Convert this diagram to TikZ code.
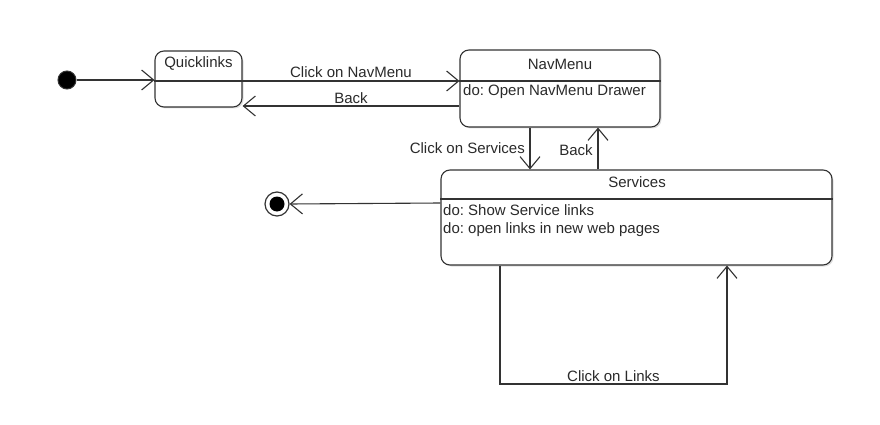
\documentclass[tikz,border=0pt]{standalone}
\usepackage{fontspec}
\setmainfont{Liberation Sans}
\frenchspacing
\usetikzlibrary{arrows.meta,shadows,calc}
\definecolor{ln}{HTML}{333333}
\definecolor{tx}{HTML}{2a2a2a}
\begin{document}
\begin{tikzpicture}[x=1pt,y=-1pt,
  font=\fontsize{15}{17}\selectfont\frenchspacing,
  every node/.style={text=tx},
  state/.style={draw=ln,line width=1.1pt,rounded corners=9pt,fill=white,inner sep=0pt,
    drop shadow={shadow xshift=1.5pt,shadow yshift=-1.5pt,opacity=0.25}},
  arr/.style={draw=ln,line width=1.1pt,-{Straight Barb[length=12pt,width=20pt,line width=1.1pt]}},
  lbl/.style={inner sep=1pt},
  div/.style={draw=ln,line width=1.1pt}]
\useasboundingbox (0,0) rectangle (880,425);
% states
\node[state,minimum width=87pt,minimum height=56pt] (Q) at (198.5,79) {};
\node[state,minimum width=200pt,minimum height=77pt] (N) at (560,88.5) {};
\node[state,minimum width=391pt,minimum height=95pt] (S) at (636.5,217.5) {};
% dividers
\draw[div] (Q.west |- 0,81) -- (Q.east |- 0,81);
\draw[div] (N.west |- 0,81) -- (N.east |- 0,81);
\draw[div] (S.west |- 0,199) -- (S.east |- 0,199);
% titles and activities
\node (Qt) at (198.5,63) {Quicklinks};
\node (Nt) at (560,64) {NavMenu};
\node[anchor=west,inner sep=0pt] (Nd) at (463,92) {do: Open NavMenu Drawer};
\node (St) at (637,182) {Services};
\node[anchor=west,inner sep=0pt] (Sd1) at (443,210) {do: Show Service links};
\node[anchor=west,inner sep=0pt] (Sd2) at (443,230) {do: open links in new web pages};
% initial and final
\node[circle,fill=black,draw=ln,line width=1pt,minimum size=18pt,inner sep=0pt] (init) at (67,80) {};
\node[circle,draw=ln,line width=1.2pt,fill=white,minimum size=24pt,inner sep=0pt] (fin) at (277,204) {};
\node[circle,fill=black,minimum size=15pt,inner sep=0pt] (finin) at (fin) {};
% transitions
\draw[arr] (init) -- (Q.west |- init);
\draw[arr] (Q.east |- 0,81) -- node[lbl,above=2pt] (l1) {Click on NavMenu} (N.west |- 0,81);
\draw[arr] (N.west |- 0,106) -- node[lbl,above=1pt] (l2) {Back} (Q.east |- 0,106);
\draw[arr] (N.south -| 530,0) -- (S.north -| 530,0);
\node[lbl,anchor=east] (l3) at (526,148) {Click on Services};
\draw[arr] (S.north -| 598,0) -- (N.south -| 598,0);
\node[lbl] (l4) at (576,150) {Back};
\draw[arr] (S.west |- 0,203) -- (fin.east);
\coordinate (c1) at (500,384);
\coordinate (c2) at (727,384);
\draw[arr] (S.south -| c1) -- (c1) -- node[lbl,above=1pt] (l5) {Click on Links} (c2) -- (S.south -| c2);
\end{tikzpicture}
\end{document}
